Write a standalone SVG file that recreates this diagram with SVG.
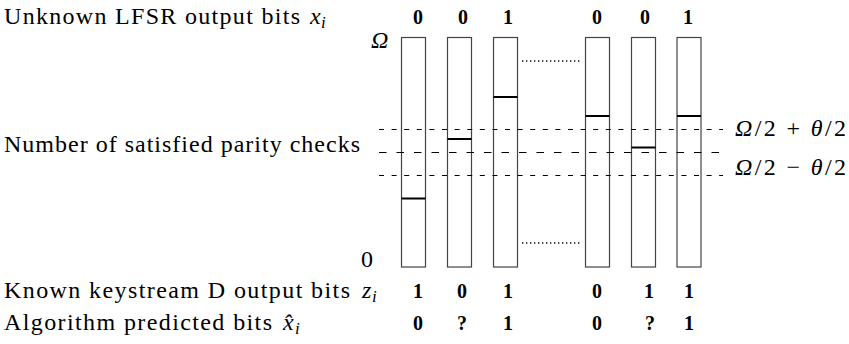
<svg xmlns="http://www.w3.org/2000/svg" width="849" height="344" viewBox="0 0 849 344">
<style>
.bar{fill:#fff;stroke:#444;stroke-width:1.2}
.lbl{font-family:'Liberation Serif',serif;font-size:24px;fill:#000}
.it{font-style:italic}
.sub{font-size:17px;font-style:italic}
.bit{font-family:'Liberation Serif',serif;font-size:20px;font-weight:bold;text-anchor:middle;fill:#000}
.mark{stroke:#000;stroke-width:2}
.dash{stroke:#000;stroke-width:1;stroke-dasharray:5 7.6;fill:none}
.dashm{stroke:#000;stroke-width:1;stroke-dasharray:7.5 10;fill:none}
.dot{stroke:#000;stroke-width:1.6;stroke-dasharray:1.3 2.7;fill:none}
</style>
<rect width="849" height="344" fill="#fff"/>
<g id="labels">
<text class="lbl" x="4" y="24"><tspan textLength="296" lengthAdjust="spacing">Unknown LFSR output bits</tspan><tspan class="it" x="310">x</tspan><tspan class="sub" x="321" dy="4">i</tspan></text>
<text class="lbl" x="4" y="152" textLength="356" lengthAdjust="spacing">Number of satisfied parity checks</text>
<text class="lbl" x="4" y="298"><tspan textLength="346" lengthAdjust="spacing">Known keystream D output bits</tspan><tspan class="it" x="362">z</tspan><tspan class="sub" x="372" dy="4">i</tspan></text>
<text class="lbl" x="4" y="330"><tspan textLength="268" lengthAdjust="spacing">Algorithm predicted bits</tspan><tspan class="it" x="283">x̂</tspan><tspan class="sub" x="295" dy="4">i</tspan></text>
<text class="lbl it" x="371" y="48">Ω</text>
<text class="lbl" x="361" y="267">0</text>
<text class="lbl" x="735" y="136" textLength="111" lengthAdjust="spacing"><tspan class="it">Ω</tspan>/2 + <tspan class="it">θ</tspan>/2</text>
<text class="lbl" x="735" y="175" textLength="111" lengthAdjust="spacing"><tspan class="it">Ω</tspan>/2 − <tspan class="it">θ</tspan>/2</text>
</g>
<g id="bits-x">
<text class="bit" x="418" y="24">0</text>
<text class="bit" x="463" y="24">0</text>
<text class="bit" x="508" y="24">1</text>
<text class="bit" x="597" y="24">0</text>
<text class="bit" x="645" y="24">0</text>
<text class="bit" x="688" y="24">1</text>
</g>
<g id="bits-z">
<text class="bit" x="418" y="298">1</text>
<text class="bit" x="462" y="298">0</text>
<text class="bit" x="508" y="298">1</text>
<text class="bit" x="597" y="298">0</text>
<text class="bit" x="649" y="298">1</text>
<text class="bit" x="689" y="298">1</text>
</g>
<g id="bits-pred">
<text class="bit" x="418" y="330">0</text>
<text class="bit" x="462" y="330">?</text>
<text class="bit" x="508" y="330">1</text>
<text class="bit" x="597" y="330">0</text>
<text class="bit" x="650" y="330">?</text>
<text class="bit" x="689" y="330">1</text>
</g>
<g id="bar1"><rect class="bar" x="401.5" y="37.5" width="24" height="229.5"/><line class="mark" x1="401.5" y1="198.5" x2="425.5" y2="198.5"/></g>
<g id="bar2"><rect class="bar" x="447.5" y="37.5" width="24" height="229.5"/><line class="mark" x1="447.5" y1="139" x2="471.5" y2="139"/></g>
<g id="bar3"><rect class="bar" x="493.5" y="37.5" width="24" height="229.5"/><line class="mark" x1="493.5" y1="97" x2="517.5" y2="97"/></g>
<g id="bar4"><rect class="bar" x="585.5" y="37.5" width="24" height="229.5"/><line class="mark" x1="585.5" y1="116" x2="609.5" y2="116"/></g>
<g id="bar5"><rect class="bar" x="631.5" y="37.5" width="24" height="229.5"/><line class="mark" x1="631.5" y1="147.5" x2="655.5" y2="147.5"/></g>
<g id="bar6"><rect class="bar" x="677" y="37.5" width="24" height="229.5"/><line class="mark" x1="677" y1="116" x2="701" y2="116"/></g>
<g id="connectors">
<line class="dash" x1="379" y1="129.5" x2="723" y2="129.5"/>
<line class="dashm" x1="379" y1="152.5" x2="723" y2="152.5"/>
<line class="dash" x1="379" y1="175.5" x2="723" y2="175.5"/>
<line class="dot" x1="522" y1="61" x2="581" y2="61"/>
<line class="dot" x1="522" y1="243" x2="581" y2="243"/>
</g>
</svg>
